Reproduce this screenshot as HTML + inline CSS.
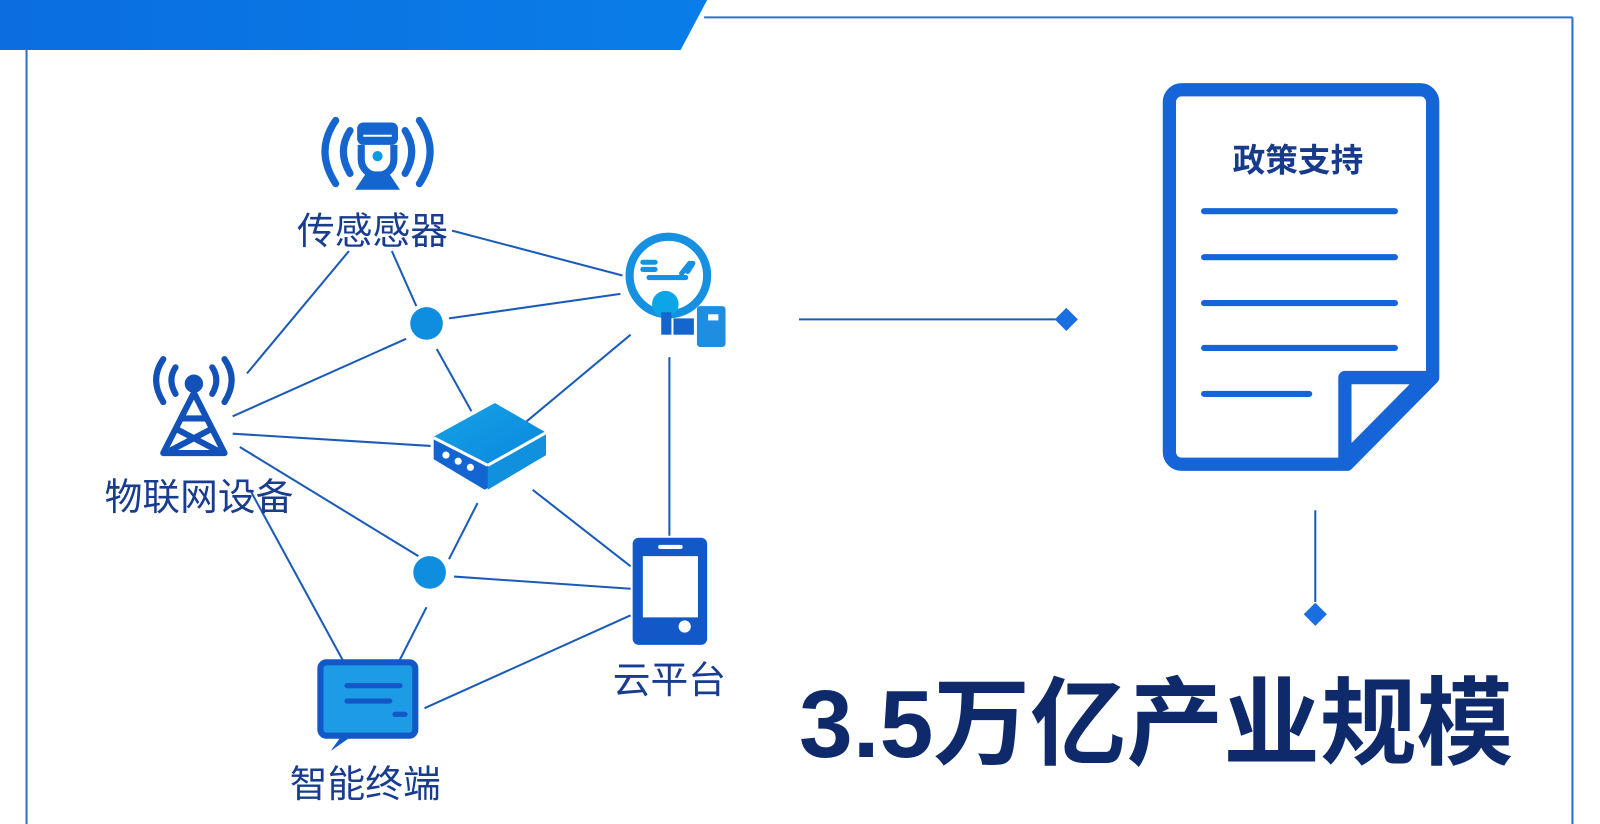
<!DOCTYPE html>
<html><head><meta charset="utf-8"><style>
html,body{margin:0;padding:0;background:#fff;}
svg{display:block}
text{font-family:"Liberation Sans","Noto Sans CJK SC",sans-serif;}
</style></head><body>
<svg width="1600" height="824" viewBox="0 0 1568 807.5" preserveAspectRatio="none" xmlns="http://www.w3.org/2000/svg">
<defs>
<linearGradient id="hb" x1="0" x2="1"><stop offset="0" stop-color="#0a6ee0"/><stop offset="1" stop-color="#0a7de8"/></linearGradient>
<linearGradient id="rt" x1="0" y1="0" x2="1" y2="1"><stop offset="0" stop-color="#16a3e6"/><stop offset="1" stop-color="#0a86de"/></linearGradient>
</defs>
<polygon points="0,0 693,0 667,49 0,49" fill="url(#hb)"/>
<line x1="690" y1="17" x2="1541" y2="17" stroke="#2d6fcf" stroke-width="2"/>
<line x1="1541" y1="17" x2="1541" y2="824" stroke="#2d6fcf" stroke-width="2"/>
<line x1="26" y1="49" x2="26" y2="824" stroke="#2d6fcf" stroke-width="2"/>

<g stroke="#1b5bb8" stroke-width="2" fill="none">
<line x1="443" y1="226" x2="610" y2="270"/>
<line x1="342" y1="246" x2="242" y2="366"/>
<line x1="384" y1="246" x2="408" y2="300"/>
<line x1="440" y1="312" x2="608" y2="288"/>
<line x1="228" y1="408" x2="398" y2="332"/>
<line x1="428" y1="342" x2="462" y2="403"/>
<line x1="510" y1="418" x2="618" y2="328"/>
<line x1="228" y1="425" x2="422" y2="437"/>
<line x1="235" y1="438" x2="410" y2="545"/>
<line x1="245" y1="480" x2="343" y2="660"/>
<line x1="445" y1="565" x2="618" y2="577"/>
<line x1="418" y1="595" x2="385" y2="660"/>
<line x1="440" y1="548" x2="468" y2="493"/>
<line x1="522" y1="480" x2="618" y2="555"/>
<line x1="416" y1="694" x2="618" y2="603"/>
<line x1="656" y1="350" x2="656" y2="525"/>
<line x1="783" y1="313" x2="1035" y2="313"/>
<line x1="1289" y1="500" x2="1289" y2="590"/>
</g>
<rect x="1037" y="305" width="16" height="16" fill="#1a6fe0" transform="rotate(45 1045 313)"/>
<rect x="1281" y="594" width="16" height="16" fill="#1a6fe0" transform="rotate(45 1289 602)"/>

<circle cx="418" cy="317" r="16" fill="#0f8ee0"/>
<circle cx="421" cy="561" r="16" fill="#0f8ee0"/>

<g fill="none" stroke="#1565cf" stroke-width="7" stroke-linecap="round">
<path d="M329 118 Q308 148 329 180"/><path d="M343 128 Q330 148 343 170"/>
<path d="M411 118 Q432 148 411 180"/><path d="M397 128 Q410 148 397 170"/>
</g>
<rect x="350" y="120" width="40" height="22" rx="6" fill="#1565cf"/>
<line x1="356" y1="133" x2="384" y2="133" stroke="#fff" stroke-width="2"/>
<path d="M354 142 v14 a16 16 0 0 0 32 0 v-14" fill="none" stroke="#1565cf" stroke-width="7"/>
<circle cx="370" cy="153" r="5" fill="#0e9be3"/>
<path d="M360 168 h20 l12 18 h-44 z" fill="#1565cf"/>

<g fill="none" stroke="#1251b8" stroke-width="6" stroke-linecap="round">
<path d="M160 352 Q146 372 160 394"/><path d="M172 360 Q164 372 172 386"/>
<path d="M220 352 Q234 372 220 394"/><path d="M208 360 Q216 372 208 386"/>
</g>
<circle cx="190" cy="376" r="9" fill="#1251b8"/>
<g fill="none" stroke="#1251b8" stroke-width="6" stroke-linejoin="round">
<path d="M190 385 L160 444 H220 Z"/><path d="M177 410 H203 M172 420 L214 442 M208 420 L166 442"/>
</g>

<circle cx="655" cy="270" r="38" fill="none" stroke="#1690e0" stroke-width="8"/>
<path d="M630 257 h12 M630 264 h12 M636 272 h36 M668 268 l8 -10 M674 266 l5 -8" stroke="#1690e0" stroke-width="5" stroke-linecap="round"/>
<circle cx="652" cy="298" r="13" fill="#0ca6e6"/>
<rect x="648" y="306" width="10" height="22" fill="#1565cf"/>
<rect x="660" y="312" width="20" height="16" fill="#1565cf"/>
<rect x="683" y="300" width="28" height="40" rx="3" fill="#1f8ee0"/>
<rect x="694" y="308" width="10" height="6" fill="#fff"/>

<polygon points="425,428 485,395 535,424 535,446 475,480 425,450" fill="#1366d2"/>
<polygon points="425,428 485,395 535,424 477,455" fill="url(#rt)"/>
<polygon points="478,455 535,424 535,446 478,480" fill="#1190de"/>
<line x1="425" y1="429" x2="478" y2="456" stroke="#fff" stroke-width="3"/>
<line x1="478" y1="456" x2="535" y2="424" stroke="#fff" stroke-width="3"/>
<circle cx="437" cy="446" r="3.5" fill="#fff"/><circle cx="449" cy="452" r="3.5" fill="#fff"/><circle cx="461" cy="458" r="3.5" fill="#fff"/>

<rect x="620" y="527" width="73" height="105" rx="6" fill="#1258c6"/>
<rect x="630" y="545" width="54" height="60" fill="#fff"/>
<rect x="645" y="534" width="24" height="4" rx="2" fill="#fff"/>
<circle cx="671" cy="614" r="6" fill="#fff"/>

<rect x="314" y="649" width="93" height="72" rx="6" fill="#1d9be4" stroke="#1258c6" stroke-width="6"/>
<path d="M334 722 l-10 14 l20 -14 z" fill="#1258c6"/>
<path d="M340 672 h52 M340 687 h42 M387 700 h10" stroke="#1258c6" stroke-width="5" stroke-linecap="round"/>

<g fill="#183c8f" font-size="37">
<text x="365" y="239" text-anchor="middle">传感感器</text>
<text x="195" y="500" text-anchor="middle">物联网设备</text>
<text x="656" y="679" text-anchor="middle">云平台</text>
<text x="358" y="781" text-anchor="middle">智能终端</text>
</g>

<path d="M1158 88 H1392 a12 12 0 0 1 12 12 V370 L1320 455 H1158 a12 12 0 0 1 -12 -12 V100 a12 12 0 0 1 12 -12 Z" fill="none" stroke="#1565d8" stroke-width="13" stroke-linejoin="round"/>
<path d="M1318 370 H1397 L1318 450 Z" fill="none" stroke="#1565d8" stroke-width="13" stroke-linejoin="round"/>
<text x="1272" y="168" text-anchor="middle" font-size="32" font-weight="bold" fill="#173a8a">政策支持</text>
<g stroke="#1565d8" stroke-width="6" stroke-linecap="round">
<line x1="1180" y1="207" x2="1367" y2="207"/>
<line x1="1180" y1="252" x2="1367" y2="252"/>
<line x1="1180" y1="297" x2="1367" y2="297"/>
<line x1="1180" y1="341" x2="1367" y2="341"/>
<line x1="1180" y1="386" x2="1283" y2="386"/>
</g>

<text x="783" y="742" font-size="94" font-weight="bold" fill="#0f2a6b" textLength="700" lengthAdjust="spacingAndGlyphs">3.5万亿产业规模</text>
</svg>
</body></html>
